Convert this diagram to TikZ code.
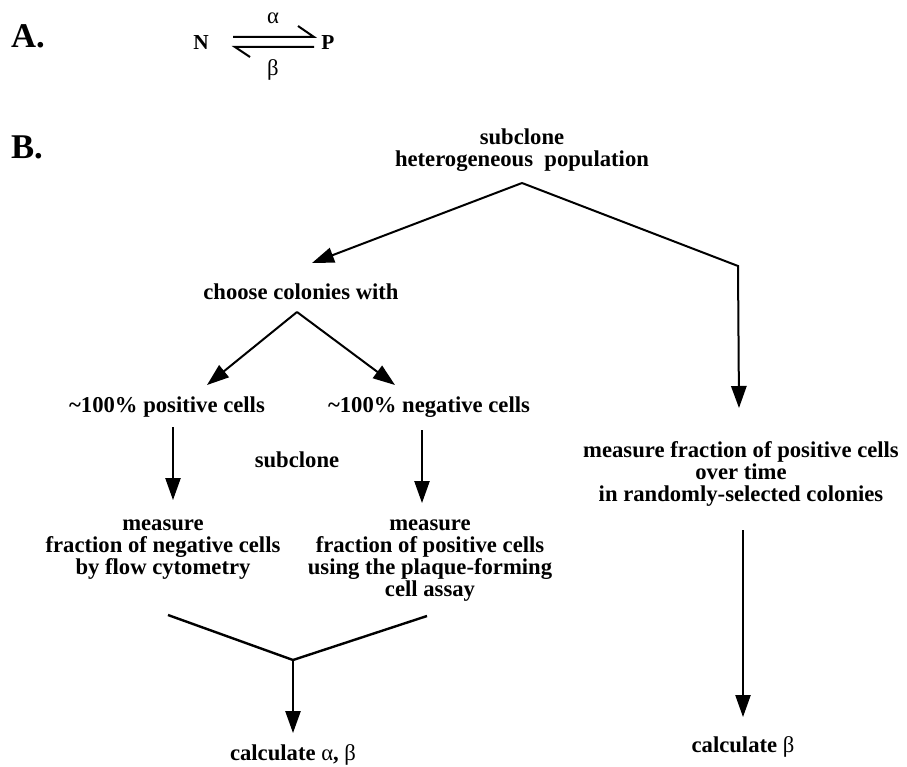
\documentclass[tikz,border=0pt]{standalone}
\usepackage{fontspec}
\setmainfont{Liberation Serif}
\usetikzlibrary{arrows.meta}
\tikzset{txt/.style={font=\fontsize{17}{16.5}\selectfont\bfseries, align=center, inner sep=0pt}}
\tikzset{big/.style={font=\fontsize{26}{26}\selectfont\bfseries, inner sep=0pt}}
\tikzset{arr/.style={line width=#1, -{Triangle[length=16.5pt,width=11.5pt]}}, arr/.default=1.5pt}
\newcommand{\gr}[1]{{\mdseries #1}}

\begin{document}
\begin{tikzpicture}[x=0.75pt, y=-0.75pt]
\useasboundingbox (0,0) rectangle (907,767);
\node[big] (labA) at (28,36) {A.};
\node[big] (labB) at (27,147) {B.};
\node[txt, font=\fontsize{16}{16}\selectfont\bfseries] (nN) at (201,43) {N};
\node[txt, font=\fontsize{16}{16}\selectfont\bfseries] (nP) at (328,43) {P};
\draw[line width=1.5pt] (233,37) -- (314,37) -- (298,26);
\draw[line width=1.5pt] (314,47) -- (235,47) -- (250,57);
\node[txt, font=\fontsize{17}{17}\selectfont] (alpha) at (273,18) {α};
\node[txt, font=\fontsize{17}{17}\selectfont] (beta) at (273,70) {β};

\node[txt] (pop) at (522,150) {subclone\\heterogeneous\ \ population};
\coordinate (popsplit) at (522,183);
\coordinate (choosein) at (312,263);
\coordinate (bend) at (738,266);
\coordinate (mtimein) at (739,408);
\node[txt] (choose) at (301,292) {choose colonies with};
\coordinate (choosesplit) at (297,312);
\coordinate (posin) at (207,385);
\coordinate (negin) at (395,385);
\node[txt] (pos) at (167,407) {\textasciitilde100\% positive cells};
\node[txt] (neg) at (429,407) {\textasciitilde100\% negative cells};
\node[txt] (sub) at (297,460) {subclone};
\coordinate (posout) at (173,427);
\coordinate (mnegin) at (173,500);
\coordinate (negout) at (422,430);
\coordinate (mposin) at (422,503);
\node[txt] (mneg) at (163,550) {measure\\fraction of negative cells\\by flow cytometry};
\node[txt] (mpos) at (430,561) {measure\\fraction of positive cells\\using the plaque-forming\\cell assay};
\node[txt] (mtime) at (741,474) {measure fraction of positive cells\\over time\\in randomly-selected colonies};
\coordinate (mtimeout) at (743,530);
\coordinate (calcbin) at (743,717);
\coordinate (vleft) at (168,615);
\coordinate (vmid) at (293,660);
\coordinate (vright) at (427,616);
\coordinate (calcabin) at (293,733);
\node[txt] (calcab) at (293,755) {calculate \gr{α}, \gr{β}};
\node[txt] (calcb) at (743,747) {calculate \gr{β}};

\draw[arr] (popsplit) -- (choosein);
\draw[arr] (popsplit) -- (bend) -- (mtimein);
\draw[arr] (choosesplit) -- (posin);
\draw[arr] (choosesplit) -- (negin);
\draw[arr=1pt] (posout) -- (mnegin);
\draw[arr=1pt] (negout) -- (mposin);
\draw[line width=1.8pt] (vleft) -- (vmid) -- (vright);
\draw[arr=1.1pt] (vmid) -- (calcabin);
\draw[arr=0.9pt] (mtimeout) -- (calcbin);
\end{tikzpicture}
\end{document}
